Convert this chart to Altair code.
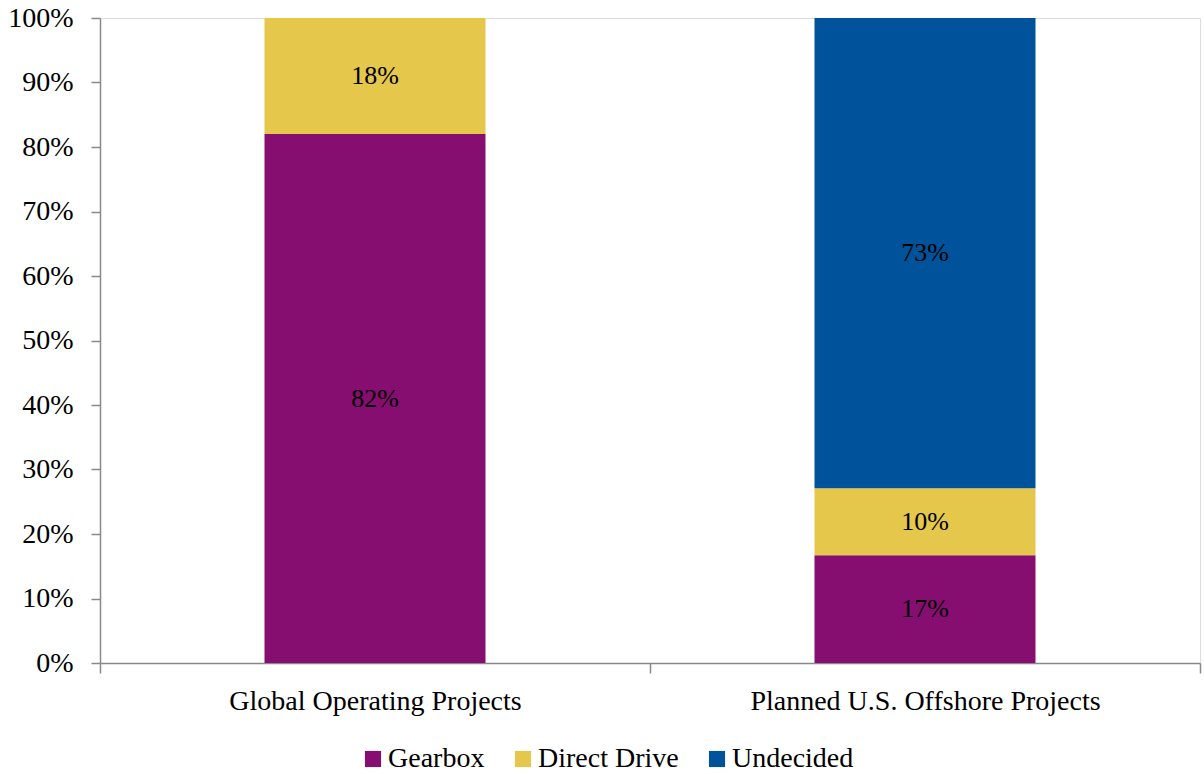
import altair as alt
import pandas as pd

projects = ["Global Operating Projects", "Global Operating Projects",
            "Planned U.S. Offshore Projects", "Planned U.S. Offshore Projects", "Planned U.S. Offshore Projects"]
types = ["Gearbox", "Direct Drive", "Gearbox", "Direct Drive", "Undecided"]
values = [0.82, 0.18, 0.167, 0.104, 0.729]
type_order = ["Gearbox", "Direct Drive", "Undecided"]
colors = ["#860E70", "#E5C74C", "#00529B"]
project_order = ["Global Operating Projects", "Planned U.S. Offshore Projects"]

df = pd.DataFrame({"project": projects, "type": types, "value": values})
df["order"] = df["type"].map({t: i for i, t in enumerate(type_order)})

FONT = "Liberation Serif"
FS = 28
AXIS_COLOR = "#898989"

base = alt.Chart(df)

x_enc = alt.X("project:N", title=None, sort=project_order,
              scale=alt.Scale(paddingInner=0, paddingOuter=0),
              axis=alt.Axis(labelAngle=0, tickBand="extent", tickSize=10, labelPadding=14,
                            labelFontSize=FS, labelFont=FONT, labelColor="#000000", labelLimit=0,
                            domainColor=AXIS_COLOR, tickColor=AXIS_COLOR, domainWidth=1.5, tickWidth=1.5))

bars = base.mark_bar(size=221).encode(
    x=x_enc,
    y=alt.Y("value:Q", stack="zero", title=None,
            scale=alt.Scale(domain=[0, 1], nice=False),
            axis=alt.Axis(format=".0%", values=[i / 10 for i in range(11)], grid=False,
                          tickSize=9, labelPadding=18, labelFontSize=FS, labelFont=FONT,
                          labelColor="#000000", domainColor=AXIS_COLOR, tickColor=AXIS_COLOR,
                          domainWidth=1.5, tickWidth=1.5)),
    color=alt.Color("type:N", scale=alt.Scale(domain=type_order, range=colors),
                    legend=alt.Legend(title=None, orient="none", direction="horizontal",
                                      legendX=259, legendY=727, symbolType="square", symbolSize=260,
                                      symbolStrokeWidth=0, labelFontSize=28, labelFont=FONT,
                                      labelColor="#000000", columnPadding=24, labelOffset=1,
                                      labelLimit=0)),
    order=alt.Order("order:Q"),
)

labels = base.transform_stack(
    stack="value", as_=["y0", "y1"], groupby=["project"], sort=[alt.SortField("order")]
).transform_calculate(
    mid="(datum.y0 + datum.y1) / 2"
).mark_text(font=FONT, fontSize=26, color="#000000", baseline="middle").encode(
    x=alt.X("project:N", sort=project_order),
    y=alt.Y("mid:Q"),
    text=alt.Text("value:Q", format=".0%"),
)

chart = alt.layer(bars, labels).properties(
    width=1100, height=645,
    autosize=alt.AutoSizeParams(type="none"),
    padding={"left": 100, "top": 18, "right": 4, "bottom": 111},
).configure_view(stroke=None).configure(background="#ffffff")

chart.save("out.html", embed_options={"renderer": "svg", "actions": False})
